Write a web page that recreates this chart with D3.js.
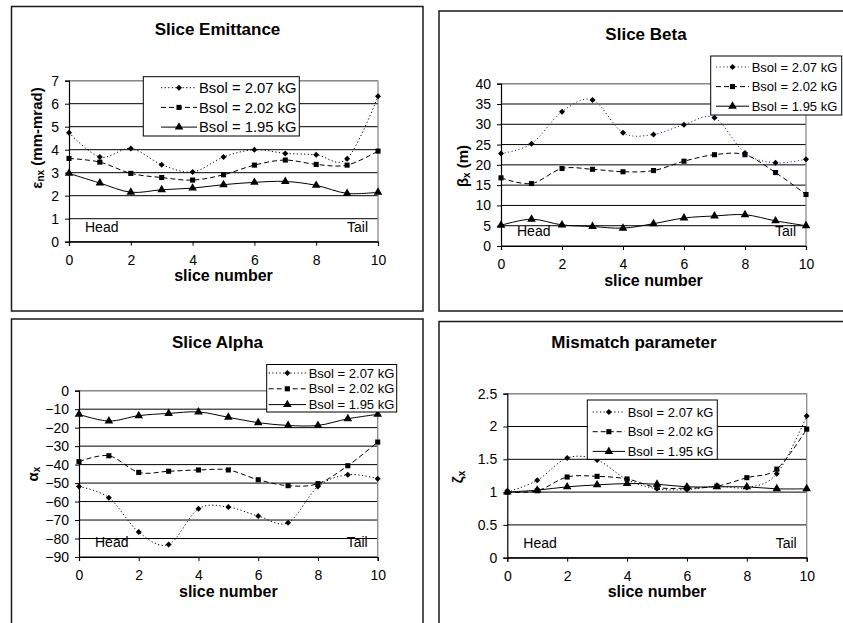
<!DOCTYPE html>
<html><head><meta charset="utf-8">
<script src="https://cdn.jsdelivr.net/npm/d3@7"></script>
<style>
body{margin:0;background:#fff;}
text{font-family:"Liberation Sans",Arial,sans-serif;fill:#000;}
</style></head>
<body><svg id="c" width="843" height="623"></svg>
<script>
// ---- data ----
const slices = [0,1,2,3,4,5,6,7,8,9,10];
const seriesNames = ["Bsol = 2.07 kG","Bsol = 2.02 kG","Bsol = 1.95 kG"];

const emit207 = [4.74,3.68,4.05,3.35,3.03,3.68,4.00,3.84,3.78,3.61,6.32];
const emit202 = [3.62,3.46,2.97,2.79,2.68,2.91,3.33,3.55,3.36,3.33,3.94];
const emit195 = [2.97,2.55,2.15,2.26,2.33,2.48,2.58,2.62,2.45,2.10,2.15];

const beta207 = [22.8,25.2,33.1,36.0,27.9,27.5,29.9,31.6,22.9,20.5,21.4];
const beta202 = [16.8,15.4,19.1,18.9,18.3,18.6,20.9,22.5,22.5,18.1,12.7];
const beta195 = [5.1,6.6,5.2,4.8,4.4,5.5,6.9,7.4,7.7,6.2,5.0];

const alpha207 = [-51.9,-57.9,-76.5,-83.2,-63.9,-63.0,-67.8,-71.4,-51.9,-45.5,-47.6];
const alpha202 = [-38.4,-35.2,-44.2,-43.6,-42.9,-42.9,-48.2,-51.4,-50.3,-40.6,-27.8];
const alpha195 = [-12.8,-16.4,-13.5,-12.3,-11.5,-14.4,-17.3,-18.8,-18.8,-15.2,-12.8];

const mism207 = [1.00,1.18,1.52,1.49,1.19,1.05,1.04,1.09,1.07,1.28,2.16];
const mism202 = [1.00,1.02,1.23,1.24,1.20,1.07,1.06,1.09,1.22,1.35,1.96];
const mism195 = [1.00,1.03,1.08,1.11,1.13,1.12,1.08,1.08,1.08,1.05,1.05];

const xTicks = [0,2,4,6,8,10];
const emitTicks = [0,1,2,3,4,5,6,7];
const betaTicks = [0,5,10,15,20,25,30,35,40];
const alphaTicks = [0,-10,-20,-30,-40,-50,-60,-70,-80,-90];
const mismTicks = [0,0.5,1,1.5,2,2.5];

// ---- layout ----
const panels = [
  {box:[11.5,6.5,423,311], plot:[69,80.7,378,241.7], ticks:emitTicks, dom:[0,7],
   title:"Slice Emittance", tpos:[217.5,34.5], ysym:"ε", ysub:"nx", yrest:" (mm-mrad)", ypos:[37,138],
   series:[emit207,emit202,emit195], blue:false,
   leg:{x:143.3,y:76.7,w:156,h:59.3,r0:11,dr:19.7,l0:17.7,l1:53.7,tx:55.7,fs:14.8}},
  {box:[439,11,860,311], plot:[501,83.7,806,246], ticks:betaTicks, dom:[0,40],
   title:"Slice Beta", tpos:[646,39.5], ysym:"β", ysub:"x", yrest:" (m)", ypos:[463,166],
   series:[beta207,beta202,beta195], blue:true,
   leg:{x:710.7,y:56,w:131,h:59,r0:11,dr:19.6,l0:5.3,l1:38.3,tx:41,fs:13}},
  {box:[11.5,319,423,640], plot:[79,390.7,377.7,557], ticks:alphaTicks, dom:[-90,0],
   title:"Slice Alpha", tpos:[217.5,347.5], ysym:"α", ysub:"x", yrest:"", ypos:[33,474],
   series:[alpha207,alpha202,alpha195], blue:false,
   leg:{x:266.7,y:364.5,w:130,h:47.5,r0:8.5,dr:15.8,l0:2,l1:39.3,tx:42,fs:13}},
  {box:[439,321.5,860,640], plot:[507.3,393.7,806.7,557.7], ticks:mismTicks, dom:[0,2.5],
   title:"Mismatch parameter", tpos:[634,348], ysym:"ζ", ysub:"x", yrest:"", ypos:[458,477],
   series:[mism207,mism202,mism195], blue:false,
   leg:{x:587.3,y:400,w:130,h:59.3,r0:12,dr:19.7,l0:5.4,l1:37.7,tx:40.4,fs:13}}
];

const dashes = ["1.2,2.4","5,3",null];
const symbols = [d3.symbolSquare, d3.symbolSquare, d3.symbolTriangle];
const symSizes = [18, 26, 32];
const symRot = [45, 0, 0];

const svg = d3.select("#c");

panels.forEach(p => {
  const g = svg.append("g");
  const [bx0,by0,bx1,by1] = p.box;
  g.append("rect").attr("x",bx0).attr("y",by0).attr("width",bx1-bx0).attr("height",by1-by0)
    .attr("fill","#fff").attr("stroke","#1a1a1a").attr("stroke-width",1.5);

  const [l,t,r,b] = p.plot;
  const x = d3.scaleLinear().domain([0,10]).range([l,r]);
  const y = d3.scaleLinear().domain(p.dom).range([b,t]);

  // gridlines
  g.selectAll("line.grid").data(p.ticks).enter().append("line")
    .attr("x1",l).attr("x2",r).attr("y1",d=>y(d)).attr("y2",d=>y(d))
    .attr("stroke","#000").attr("stroke-width",1);
  // plot border (gray right/top)
  g.append("line").attr("x1",r).attr("x2",r).attr("y1",t).attr("y2",b).attr("stroke","#8a8a8a").attr("stroke-width",1.3);
  g.append("line").attr("x1",l).attr("x2",r).attr("y1",t).attr("y2",t).attr("stroke","#8a8a8a").attr("stroke-width",1.3);

  // y axis
  const ya = d3.axisLeft(y).tickValues(p.ticks).tickSize(4).tickPadding(6).tickFormat(d3.format("~g"));
  const yg = g.append("g").attr("transform",`translate(${l},0)`).call(ya);
  // x axis at bottom of plot
  const xa = d3.axisBottom(x).tickValues(xTicks).tickSize(4).tickPadding(9).tickFormat(d3.format("d"));
  const xg = g.append("g").attr("transform",`translate(0,${b})`).call(xa);
  [yg,xg].forEach(a=>{
    a.attr("font-size",null).attr("font-family",null);
    a.select(".domain").attr("stroke","#000").attr("stroke-width",1.2);
    a.selectAll(".tick line").attr("stroke","#000");
    a.selectAll(".tick text").style("font-family",'"Liberation Sans",Arial,sans-serif').style("font-size","14px").attr("fill","#000");
  });

  // titles
  g.append("text").attr("x",p.tpos[0]).attr("y",p.tpos[1]).attr("text-anchor","middle")
    .style("font-size","17px").style("font-weight","bold").text(p.title);
  g.append("text").attr("x",(l+r)/2).attr("y",b+39.5).attr("text-anchor","middle")
    .style("font-size","16px").style("font-weight","bold").text("slice number");
  const yt = g.append("text").attr("transform",`translate(${p.ypos[0]},${p.ypos[1]}) rotate(-90)`)
    .attr("text-anchor","middle").attr("dy","0.35em").style("font-size","15px").style("font-weight","bold");
  yt.append("tspan").text(p.ysym);
  yt.append("tspan").style("font-size","10px").attr("dy","0.15em").text(p.ysub);
  if (p.yrest) yt.append("tspan").attr("dy","-0.15em").text(p.yrest);

  // Head / Tail
  g.append("text").attr("x",l+16).attr("y",b-10).style("font-size","14px").text("Head");
  g.append("text").attr("x",r-10).attr("y",b-10).attr("text-anchor","end").style("font-size","14px").text("Tail");

  // series
  const line = d3.line().x((d,i)=>x(slices[i])).y(d=>y(d)).curve(d3.curveCatmullRom.alpha(0));
  p.series.forEach((s,k)=>{
    const col = (k===0 && p.blue) ? "#2a2ab8" : "#000";
    g.append("path").attr("d",line(s)).attr("fill","none").attr("stroke",col).attr("stroke-width",1)
      .attr("stroke-dasharray",dashes[k]);
    g.selectAll(null).data(s).enter().append("path")
      .attr("d",d3.symbol().type(symbols[k]).size(symSizes[k]))
      .attr("transform",(d,i)=>`translate(${x(slices[i])},${y(d)}) rotate(${symRot[k]})`).attr("fill","#000");
  });

  // legend
  const L = p.leg;
  const lg = g.append("g");
  lg.append("rect").attr("x",L.x).attr("y",L.y).attr("width",L.w).attr("height",L.h)
    .attr("fill","#fff").attr("stroke","#000").attr("stroke-width",1);
  seriesNames.forEach((nm,k)=>{
    const yy = L.y + L.r0 + k*L.dr;
    const col = (k===0 && p.blue) ? "#2a2ab8" : "#000";
    lg.append("line").attr("x1",L.x+L.l0).attr("x2",L.x+L.l1).attr("y1",yy).attr("y2",yy)
      .attr("stroke",col).attr("stroke-width",1).attr("stroke-dasharray",dashes[k]);
    lg.append("path").attr("d",d3.symbol().type(symbols[k]).size(symSizes[k]))
      .attr("transform",`translate(${L.x+(L.l0+L.l1)/2},${yy}) rotate(${symRot[k]})`).attr("fill","#000");
    lg.append("text").attr("x",L.x+L.tx).attr("y",yy).attr("dy","0.36em")
      .style("font-size",L.fs+"px").text(nm);
  });
});
</script></body></html>
